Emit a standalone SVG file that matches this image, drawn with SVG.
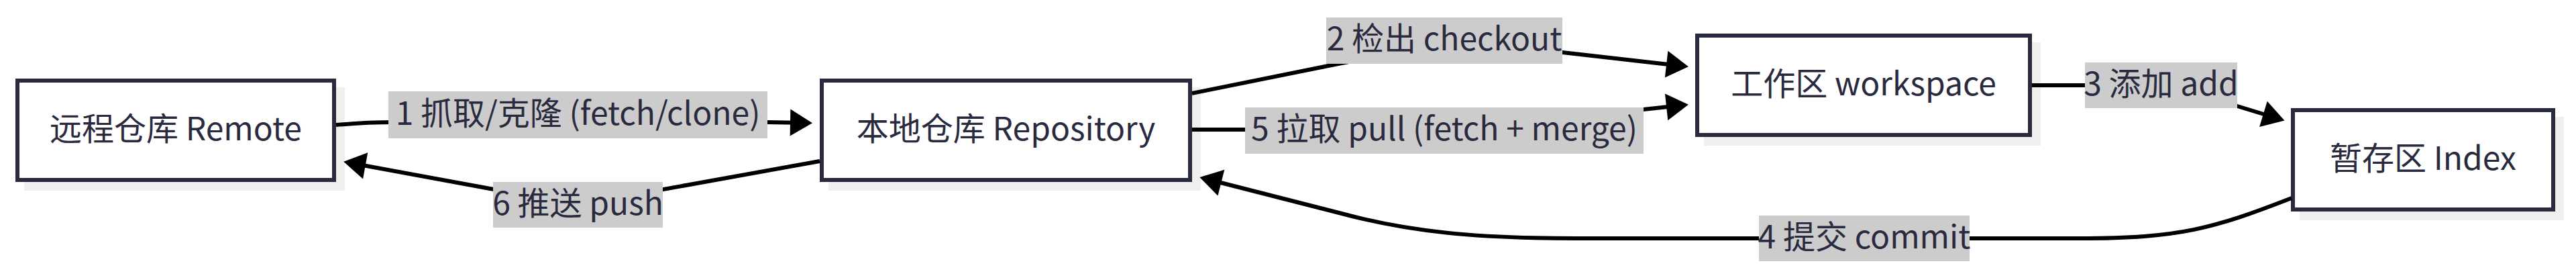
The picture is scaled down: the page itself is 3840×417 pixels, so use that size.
<svg xmlns="http://www.w3.org/2000/svg" width="3840" height="417" viewBox="0 0 3840 417">
<style>
  .shadow { fill: #efefef; stroke: none; }
  .box { fill: #ffffff; stroke: #2a2a3e; stroke-width: 6; }
  .txt { font-family: "Noto Sans CJK SC", "Noto Sans", sans-serif; font-size: 48px; fill: #2a2a3e; text-anchor: middle; dominant-baseline: central; }
  .edge { fill: none; stroke: #000000; stroke-width: 6; }
  .lblbg { fill: #cccccc; stroke: none; }
</style>
<defs>
  <marker id="arrow" markerUnits="userSpaceOnUse" markerWidth="34" markerHeight="40" refX="21" refY="20" orient="auto" overflow="visible">
    <path d="M0,0 L33,20 L0,40 Z" fill="#000000"/>
  </marker>
</defs>
<rect width="3840" height="417" fill="#ffffff"/>

<g id="node-remote">
  <rect class="shadow" x="36" y="130" width="478" height="154"/>
  <rect class="box" x="26" y="120" width="472" height="148"/>
  <text class="txt" x="262" y="188">远程仓库 Remote</text>
</g>
<g id="node-repository">
  <rect class="shadow" x="1235" y="130" width="555" height="154"/>
  <rect class="box" x="1225" y="120" width="549" height="148"/>
  <text class="txt" x="1499.5" y="188">本地仓库 Repository</text>
</g>
<g id="node-workspace">
  <rect class="shadow" x="2540" y="63" width="502" height="154"/>
  <rect class="box" x="2530" y="53" width="496" height="148"/>
  <text class="txt" x="2778" y="121">工作区 workspace</text>
</g>
<g id="node-index">
  <rect class="shadow" x="3428" y="174" width="394" height="154"/>
  <rect class="box" x="3418" y="164" width="388" height="148"/>
  <text class="txt" x="3612" y="232">暂存区 Index</text>
</g>

<g id="connectors">
  <g id="edge-fetch">
    <path class="edge" d="M501,186 Q545,182 590,182 L1144,182 L1199,183" marker-end="url(#arrow)"/>
    <rect class="lblbg" x="579" y="136" width="565" height="70"/>
    <text class="txt" x="861.5" y="165">1 抓取/克隆 (fetch/clone)</text>
  </g>
  <g id="edge-checkout">
    <path class="edge" d="M1777,139 L1995,95 Q2153,63 2329,78 L2505,98" marker-end="url(#arrow)"/>
    <rect class="lblbg" x="1977" y="26" width="352" height="69"/>
    <text class="txt" x="2153" y="54">2 检出 checkout</text>
  </g>
  <g id="edge-add">
    <path class="edge" d="M3029,127 L3108,127 Q3250,127 3335,158 L3394,176" marker-end="url(#arrow)"/>
    <rect class="lblbg" x="3108" y="93" width="227" height="68"/>
    <text class="txt" x="3221.5" y="121">3 添加 add</text>
  </g>
  <g id="edge-commit">
    <path class="edge" d="M3416,295 C3300,340 3250,355 3100,355 L2350,355 C2200,355 2100,345 2000,318 L1800,267" marker-end="url(#arrow)"/>
    <rect class="lblbg" x="2622" y="321" width="314" height="68"/>
    <text class="txt" x="2779" y="349">4 提交 commit</text>
  </g>
  <g id="edge-pull">
    <path class="edge" d="M1777,193 L1856,193 Q2153,193 2450,163 L2505,157" marker-end="url(#arrow)"/>
    <rect class="lblbg" x="1856" y="160" width="594" height="69"/>
    <text class="txt" x="2153" y="188">5 拉取 pull (fetch + merge)</text>
  </g>
  <g id="edge-push">
    <path class="edge" d="M1222,240 L861,305 L524,243" marker-end="url(#arrow)"/>
    <rect class="lblbg" x="735" y="271" width="253" height="68"/>
    <text class="txt" x="861.5" y="299">6 推送 push</text>
  </g>
</g>
</svg>
